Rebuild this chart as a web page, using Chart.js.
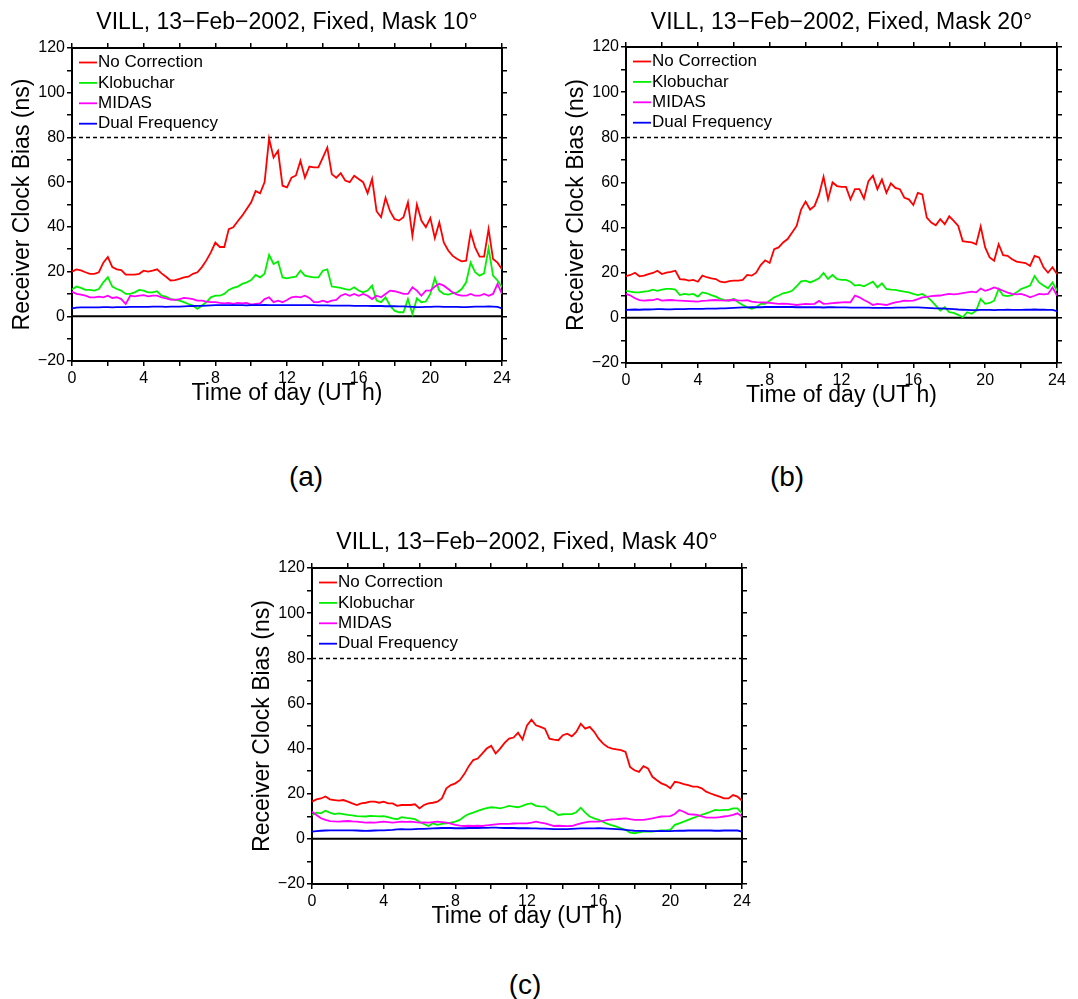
<!DOCTYPE html>
<html>
<head>
<meta charset="utf-8">
<script src="https://cdn.jsdelivr.net/npm/chart.js@4.4.1/dist/chart.umd.min.js"></script>
<style>
  html, body { margin: 0; padding: 0; background: #fff; overflow: hidden; }
  body { width: 1078px; height: 999px; position: relative; font-family: "Liberation Sans", Arial, sans-serif; }
  canvas { position: absolute; }
  .tag { position: absolute; font-size: 28px; line-height: 32px; transform: translate(-50%, -50%); color: #000; }
</style>
</head>
<body>
<canvas id="chartA" width="540" height="420" style="left:0px;top:0px"></canvas>
<canvas id="chartB" width="524" height="420" style="left:554px;top:0px"></canvas>
<canvas id="chartC" width="540" height="420" style="left:240px;top:520px"></canvas>
<div class="tag" style="left:306px;top:477px">(a)</div>
<div class="tag" style="left:787px;top:477px">(b)</div>
<div class="tag" style="left:525px;top:985px">(c)</div>
<script>
// time of day (UT h), shared by every series
const hours = [0,0.25,0.5,0.75,1,1.25,1.5,1.75,2,2.25,2.5,2.75,3,3.25,3.5,3.75,4,4.25,4.5,4.75,5,5.25,5.5,5.75,6,6.25,6.5,6.75,7,7.25,7.5,7.75,8,8.25,8.5,8.75,9,9.25,9.5,9.75,10,10.25,10.5,10.75,11,11.25,11.5,11.75,12,12.25,12.5,12.75,13,13.25,13.5,13.75,14,14.25,14.5,14.75,15,15.25,15.5,15.75,16,16.25,16.5,16.75,17,17.25,17.5,17.75,18,18.25,18.5,18.75,19,19.25,19.5,19.75,20,20.25,20.5,20.75,21,21.25,21.5,21.75,22,22.25,22.5,22.75,23,23.25,23.5,23.75,24];

const seriesNames = ["No Correction", "Klobuchar", "MIDAS", "Dual Frequency"];
const seriesColors = ["#ff0000", "#00f000", "#ff00ff", "#0000ff"];
const masks = [10, 20, 40];
const alarmLimit = 80;

// (a) mask 10
const noCorrA = [20,21,20.5,19.7,19,19,19.7,24,26.5,22,21,20.7,18.6,18.6,18.6,19,20.4,20,20.4,21,19.2,17.7,16,16.2,16.7,17.4,17.7,19,19.7,22,25,28.6,33,31,31,39,39.8,42.5,45,48,51,56,55,60,79.5,71,74,58.4,57.7,62,63,69.6,62,67,66.6,66.6,71,75.5,63.6,62,64,60.7,60,62.9,61.4,60,55,61.5,47,44.3,53,47,43.5,42.8,44.3,51,36,50,42.8,39.8,44,35,42,33,29.4,27,25.6,24.6,24.9,37.6,30.8,26.7,26.7,39,25.6,24,21];
const klobA = [12,13.3,12.7,11.8,11.8,11.5,12.2,15.2,17.5,13.3,12.2,11.5,10,10,10.7,11.8,11.5,10.7,10.7,11.2,9.2,8.8,7.7,7.5,7,6.3,5.5,4.8,3.3,4.8,6.3,8.5,9.2,9.2,10,11.8,12.7,13.3,14.5,15.2,16.2,18.5,17.4,19,27.5,23.4,24.5,17.4,17,17.4,17.7,20.4,18.2,17.7,17.4,17.4,20.4,21,13.3,13,12.7,12.2,11.8,13,11.5,10.7,11.5,13.7,7,6.3,8.5,4.8,2.5,1.8,1.8,7.7,1,8,6.3,6.6,10,17,11.5,10,9.7,10.3,10.7,12.2,15.2,24,19.7,18.2,19.2,30.5,18.2,16,13];
const midasA = [11,10,9.7,9.2,8.5,8.5,8.8,8.5,9.2,8.2,8.5,7.7,5.5,9.2,8.9,9.2,9.5,8.9,9.2,9.2,8.5,8,7.5,7.3,7.7,8.2,8,7.7,7,7,6.6,6.3,6.3,6,5.8,6,5.5,6,5.8,6,5.2,5.5,5.8,7.7,8.5,6.3,7,6.3,7.3,8.5,8.8,8.5,9.2,8.2,6.3,6.3,7,6.3,7,7.3,9.2,10,9.2,10,9.2,10,9.2,7.7,9.2,8.5,10,11.5,11.2,10.7,10,10,13,11.5,9.2,11.5,11.5,13.3,14.5,13.7,12.2,10.7,9.7,9.2,9.2,10,9.2,9.2,10,9.2,10,14.5,10];
const dualA = [3.5,3.9,4,4,4,4,4,4.1,4.1,4,4.1,4.1,4.1,4.2,4.2,4.2,4.2,4.2,4.3,4.3,4.3,4.2,4.3,4.3,4.3,4.4,4.5,4.6,4.7,4.7,4.8,4.9,5,5,5,5,5,5,5,4.9,5,5,5,5.1,5,5,5,5,5,5,5,5,5,5,5,4.9,4.9,4.9,4.8,4.8,4.8,4.8,4.8,4.7,4.7,4.7,4.7,4.6,4.6,4.6,4.5,4.5,4.5,4.4,4.4,4.3,4.2,4.1,4.1,4.2,4.2,4.3,4.3,4.2,4.2,4.2,4.2,4.1,4.1,4.2,4.3,4.3,4.3,4.4,4.3,4.2,3.5];

// (b) mask 20
const noCorrB = [18.5,19,20,18.4,18.7,19.4,19.9,20.9,19.4,20,20.4,20.9,17.2,17,16.5,16.8,16,18.7,18,17.5,17.2,16,15.7,16.3,16.5,16.5,16.8,19,18.7,20,23.4,25.5,24.3,30.4,31.2,33.4,34.9,37.8,40.7,48,51.5,48,49.6,54.7,62.5,52.5,60,58.4,58,58,52.5,57,57,52.8,60.6,63,57,61.3,55.4,59.6,57.6,57,53.2,52.5,50,55.4,54.7,44.4,42.2,41,43.7,41.5,45,43,40.7,34,33.7,33.4,32.6,40.5,31.2,26.8,25.3,32.6,27.8,27.5,26,24.9,24.6,24.3,23,27.5,26.8,22.4,20,22.4,19.4];
const klobB = [12,11.6,11.3,11.3,11.6,11.8,12.5,12,12.5,12.8,12.8,12.5,10.1,10.6,10.3,10.6,9.4,11.3,10.9,10.1,9.4,8.4,7.9,7.6,8.4,6.9,5.7,4.7,4,4.7,6.2,6.2,7.6,9.1,9.9,10.9,11.3,12,14,16.2,16.5,15.7,16.5,17.5,19.9,17.2,19,17.2,16.8,16.8,16,14.3,14.6,14,15,16,13.5,15.3,12.8,12.5,12.4,12,11.6,11.3,10.6,10.1,10.6,9.4,7.6,5.4,3.2,4.7,2.5,2.2,1.3,0.3,2.5,1.8,3.2,8.4,6.2,6.6,7.6,12.8,9.9,9.6,10.1,11.3,12.8,13.5,14.3,18.5,15.7,14.3,13.1,15.7,12];
const midasB = [10.6,9.9,8.7,7.9,7.6,7.8,7.9,8.4,7.6,7.8,7.9,7.7,7.6,7.5,7.4,7.3,7.2,7.5,7.6,7.8,7.9,7.7,7.6,7.8,7.9,7.7,7.6,7.8,7.2,7,6.9,6.8,6.6,6.4,6.2,6.3,6.2,6,5.7,6,6.2,6.1,6.2,7.5,6.2,6.3,6.5,6.7,6.9,7,6.9,9.9,9.1,7.9,6.9,5.7,6.2,6,5.7,6.3,6.9,7.2,7.6,7.5,7.6,8.3,9.1,9.3,9.6,9.8,9.9,10.3,10.6,10.4,10.6,11,11.3,11.6,11.3,13,12,12.6,13.5,12.8,12,11.2,10.6,10.4,10.6,10,9.1,9.8,10.6,10.4,10.6,13.5,9.9];
const dualB = [3.5,3.6,3.7,3.6,3.7,3.7,3.8,3.9,3.9,3.8,3.8,3.9,3.9,3.9,4,4,4,4,4.1,4.1,4.1,4.2,4.2,4.3,4.4,4.5,4.6,4.6,4.7,4.7,4.7,4.8,4.8,4.8,4.8,4.8,4.8,4.8,4.7,4.7,4.7,4.7,4.7,4.7,4.6,4.7,4.7,4.6,4.6,4.6,4.5,4.5,4.5,4.5,4.5,4.4,4.4,4.4,4.4,4.4,4.5,4.5,4.5,4.6,4.6,4.6,4.5,4.4,4.3,4.2,4.2,4.1,4,3.9,3.7,3.6,3.5,3.4,3.4,3.5,3.5,3.5,3.4,3.5,3.5,3.6,3.5,3.5,3.5,3.6,3.6,3.7,3.6,3.6,3.5,3.5,3];

// (c) mask 40
const noCorrC = [16.5,17.5,17.9,18.8,17.5,17.2,16.9,17.2,16.5,15.7,15,15.7,16,16.5,16.5,16,16.5,15.7,15.7,14.6,15,15,15,15.3,13.5,15,15.7,16,16.5,17.9,22.4,23.8,24.6,26,28.7,32.2,34.9,35.6,37.8,40,41.2,37.8,40,42.5,44.4,44.9,47,44,50.3,52.8,50.3,49.6,48.8,44.4,44,43.7,45.9,46.6,45.4,47.4,51,48.8,49.6,47.4,44.4,42.2,40.7,40,39.6,39.3,38.5,31.9,30.4,29.7,32.2,31.2,27.5,26,24.6,23.8,22.4,25.3,24.9,24.3,23.8,23.1,23.1,22.4,20.9,20.1,19.4,18.7,17.9,17.9,19.4,18.7,16.9];
const klobC = [10.6,11.6,11.3,12.5,11.6,11,11.3,11,10.6,10.4,10.1,10,9.9,10.2,10.1,10,10.1,9.6,9.1,8.7,9.6,9.3,9.1,8.7,7.6,6.6,5.7,6.9,6.2,6.6,6.9,7.2,7.6,8.4,9.9,11,11.6,12.4,13.1,13.6,14,13.8,13.5,14,14.6,14.3,14,14.6,15.4,15.7,14.6,14.4,14.3,12.8,12,10.6,10.9,11,11,11.8,13.8,11.6,9.9,9.1,8.4,7.5,6.6,6,5.4,4.7,4,2.8,2.5,2.9,3.2,3.3,3.2,3.5,3.7,3.8,4,6.2,6.9,7.6,8.4,9.2,9.9,10.6,11.3,12,12.8,12.6,12.8,12.8,13.5,13.5,11.3];
const midasC = [12,10.6,9.1,8.4,7.9,7.7,7.6,7.8,7.9,7.7,7.6,7.4,7.2,7.3,7.2,7.4,7.6,7.4,7.2,7.4,7.6,7.5,7.6,7.4,7.2,7.3,7.2,7.4,7.6,7.4,7.2,6.7,6.2,5.9,5.7,5.8,5.7,5.8,5.7,6,6.2,6.4,6.6,6.6,6.6,6.8,6.9,6.9,6.9,7.2,7.6,7.2,6.9,6.3,5.7,5.8,5.7,5.6,5.7,6.3,6.9,7.3,7.6,7.6,7.6,8,8.4,8.6,8.7,8.9,9.1,8.7,8.4,8.4,8.4,8.7,9.1,9.5,9.9,10,10.1,11,12.8,12,11,10.8,10.6,10,9.4,9.4,9.4,9.6,9.9,10.2,10.6,11.3,9.9];
const dualC = [3.2,3.4,3.6,3.7,3.8,3.8,3.8,3.8,3.8,3.8,3.7,3.6,3.5,3.6,3.7,3.8,3.8,3.9,4,4.2,4.3,4.2,4.2,4.3,4.4,4.4,4.5,4.6,4.7,4.8,4.8,4.8,4.7,4.7,4.7,4.8,4.8,4.8,4.9,4.9,5,5,4.9,4.8,4.8,4.8,4.7,4.7,4.7,4.6,4.6,4.5,4.5,4.4,4.3,4.3,4.3,4.3,4.4,4.5,4.6,4.6,4.6,4.6,4.7,4.6,4.5,4.4,4.3,4.2,4,3.8,3.6,3.5,3.5,3.4,3.4,3.4,3.5,3.4,3.4,3.5,3.6,3.6,3.7,3.7,3.7,3.7,3.7,3.7,3.6,3.6,3.7,3.7,3.8,3.7,3.2];

const FONT = '"Liberation Sans", Arial, Helvetica, sans-serif';
Chart.defaults.font.family = FONT;
Chart.defaults.color = "#000";

// dashed alarm limit and the zero line
const refLines = {
  id: "refLines",
  beforeDatasetsDraw(chart) {
    const { ctx, chartArea: a, scales } = chart;
    ctx.save();
    ctx.strokeStyle = "#000";
    ctx.lineWidth = 1.5;
    ctx.setLineDash([4, 3]);
    let py = Math.round(scales.y.getPixelForValue(alarmLimit)) + 0.5;
    ctx.beginPath();
    ctx.moveTo(a.left, py);
    ctx.lineTo(a.right, py);
    ctx.stroke();
    ctx.setLineDash([]);
    ctx.lineWidth = 2;
    py = scales.y.getPixelForValue(0);
    ctx.beginPath();
    ctx.moveTo(a.left, py);
    ctx.lineTo(a.right, py);
    ctx.stroke();
    ctx.restore();
  }
};

// legend drawn inside the top-left corner of the plot
const insideLegend = {
  id: "insideLegend",
  afterDraw(chart) {
    const { ctx, chartArea: a } = chart;
    ctx.save();
    ctx.font = "17px " + FONT;
    ctx.textBaseline = "middle";
    chart.data.datasets.forEach((ds, i) => {
      const yy = a.top + 14.5 + i * 20.4;
      ctx.strokeStyle = ds.borderColor;
      ctx.lineWidth = 1.8;
      ctx.beginPath();
      ctx.moveTo(a.left + 7, yy);
      ctx.lineTo(a.left + 25, yy);
      ctx.stroke();
      ctx.fillStyle = "#000";
      ctx.fillText(ds.label, a.left + 26, yy);
    });
    ctx.restore();
  }
};

const TITLE_BLOCK = 9 + 23 * 1.2;
const X_TITLE_BLOCK = 33 + 23 * 0.6;

function tickStyle() {
  return {
    grid: { drawOnChartArea: false, drawTicks: true, tickLength: 5, color: "#000", lineWidth: 1.5 },
    border: { display: true, color: "#000", width: 2 }
  };
}

function panel(id, mask, series, box) {
  const canvas = document.getElementById(id);
  const W = canvas.width, H = canvas.height;
  new Chart(canvas, {
    type: "line",
    data: {
      datasets: series.map((vals, i) => ({
        label: seriesNames[i],
        data: hours.map((h, k) => ({ x: h, y: vals[k] })),
        borderColor: seriesColors[i],
        backgroundColor: seriesColors[i],
        borderWidth: 1.8,
        pointRadius: 0,
        tension: 0,
        fill: false,
        order: series.length - 1 - i
      }))
    },
    options: {
      responsive: false,
      animation: false,
      devicePixelRatio: 1,
      layout: { padding: { left: 0, right: 0, top: 0, bottom: H - box.bottom - X_TITLE_BLOCK } },
      plugins: {
        legend: { display: false },
        tooltip: { enabled: false },
        title: {
          display: true,
          fullSize: false,
          text: "VILL, 13\u2212Feb\u22122002, Fixed, Mask " + mask + "\u00b0",
          font: { size: 23, weight: "normal" },
          color: "#000",
          padding: { top: 9, bottom: 0 }
        }
      },
      scales: {
        x: {
          type: "linear", position: "bottom", min: 0, max: 24,
          ...tickStyle(),
          ticks: {
            stepSize: 2, autoSkip: false, maxRotation: 0, padding: 3,
            font: { size: 16 },
            callback: (v) => (v % 4 === 0 ? String(v) : "")
          },
          title: { display: true, text: "Time of day (UT h)", font: { size: 23 }, padding: { top: 0, bottom: 0 } },
          afterFit: (s) => { s.height = X_TITLE_BLOCK; }
        },
        x2: {
          type: "linear", position: "top", min: 0, max: 24,
          ...tickStyle(),
          ticks: { stepSize: 2, autoSkip: false, maxRotation: 0, callback: () => "" },
          afterFit: (s) => { s.height = box.top - TITLE_BLOCK; }
        },
        y: {
          type: "linear", position: "left", min: -20, max: 120,
          ...tickStyle(),
          ticks: {
            stepSize: 10, autoSkip: false, padding: 2,
            font: { size: 16 },
            callback: (v) => (v % 20 === 0 ? (v < 0 ? "\u2212" + Math.abs(v) : String(v)) : "")
          },
          title: { display: true, text: "Receiver Clock Bias (ns)", font: { size: 23 }, padding: { top: 9, bottom: 0 } },
          afterFit: (s) => { s.width = box.left; }
        },
        y2: {
          type: "linear", position: "right", min: -20, max: 120,
          ...tickStyle(),
          ticks: { stepSize: 10, autoSkip: false, callback: () => "" },
          afterFit: (s) => { s.width = W - box.right; }
        }
      }
    },
    plugins: [refLines, insideLegend]
  });
}

panel("chartA", masks[0], [noCorrA, klobA, midasA, dualA], { left: 72, top: 48, right: 502, bottom: 361 });
panel("chartB", masks[1], [noCorrB, klobB, midasB, dualB], { left: 72, top: 47, right: 503, bottom: 363 });
panel("chartC", masks[2], [noCorrC, klobC, midasC, dualC], { left: 72, top: 48, right: 502, bottom: 364 });
</script>
</body>
</html>
